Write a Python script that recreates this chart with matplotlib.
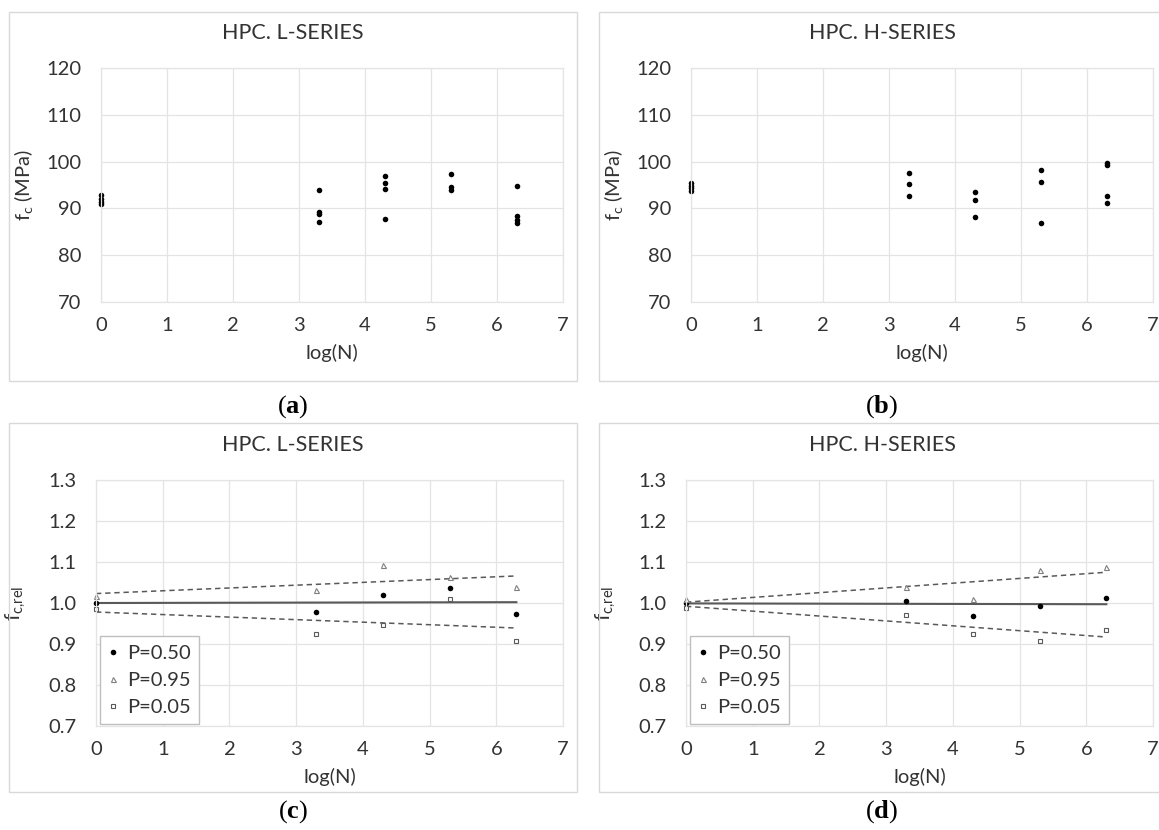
import matplotlib
matplotlib.use("Agg")
import matplotlib.pyplot as plt
from matplotlib.patches import Rectangle

plt.rcParams['font.family'] = ['Lato', 'DejaVu Sans']
plt.rcParams['mathtext.fontset'] = 'custom'
plt.rcParams['mathtext.rm'] = 'Lato'
plt.rcParams['mathtext.it'] = 'Lato'
plt.rcParams['mathtext.bf'] = 'Liberation Serif:bold'
plt.rcParams['mathtext.sf'] = 'Liberation Serif'

# log(N) levels of the fatigue pre-loading
lvl = [0.0, 3.301, 4.301, 5.301, 6.301]

# compressive strength, L-series (MPa)
l_x = [0.0]*4 + [3.301]*4 + [4.301]*4 + [5.301]*3 + [6.301]*4
l_fc = [92.9, 92.0, 91.4, 90.9,
        94.0, 89.3, 88.8, 87.0,
        96.9, 95.4, 94.1, 87.7,
        97.3, 94.5, 93.9,
        94.8, 88.3, 87.5, 86.8]

# compressive strength, H-series (MPa)
h_x = [0.0]*4 + [3.301]*3 + [4.301]*3 + [5.301]*3 + [6.301]*4
h_fc = [95.4, 94.8, 94.3, 93.8,
        97.5, 95.2, 92.6,
        93.4, 91.7, 88.2,
        98.1, 95.7, 86.9,
        99.8, 99.2, 92.7, 91.2]

# relative strength by probability level, L-series
l_p50 = [1.000, 0.978, 1.019, 1.037, 0.973]
l_p95 = [1.017, 1.032, 1.092, 1.064, 1.040]
l_p05 = [0.986, 0.925, 0.947, 1.010, 0.907]
# relative strength by probability level, H-series
h_p50 = [1.000, 1.004, 0.968, 0.993, 1.012]
h_p95 = [1.009, 1.039, 1.009, 1.080, 1.088]
h_p05 = [0.989, 0.970, 0.925, 0.908, 0.935]

# trend lines (values at log(N) = 0 and 6.3)
fit_x = [0.0, 6.301]
l_fit50 = [1.000, 1.002]
l_fit95 = [1.023, 1.066]
l_fit05 = [0.978, 0.939]
h_fit50 = [0.999, 0.997]
h_fit95 = [1.002, 1.075]
h_fit05 = [0.992, 0.917]

W, H = 1159, 830
fig = plt.figure(figsize=(W/100, H/100), dpi=100)

txt = '#333333'
gridc = '#e4e4e4'
fs = 14.5


def box(x0, y0, x1, y1):
    fig.patches.append(Rectangle((x0/W, 1-y1/H), (x1-x0)/W, (y1-y0)/H,
                                 transform=fig.transFigure, fill=False,
                                 edgecolor='#d9d9d9', lw=1.0))


def axes(rect_px, ylim, yticks, yfmt):
    l, t, r, b = rect_px
    ax = fig.add_axes([l/W, 1-b/H, (r-l)/W, (b-t)/H])
    ax.set_xlim(0, 7)
    ax.set_ylim(*ylim)
    ax.set_xticks(range(8))
    ax.set_yticks(yticks)
    ax.set_yticklabels([yfmt.format(v) for v in yticks])
    ax.tick_params(length=0, labelsize=fs, labelcolor=txt)
    ax.tick_params(axis='x', pad=11)
    ax.tick_params(axis='y', pad=14)
    ax.grid(True, color=gridc, lw=0.9)
    ax.set_axisbelow(True)
    for s in ax.spines.values():
        s.set_color(gridc)
        s.set_linewidth(0.9)
    ax.set_xlabel('log(N)', fontsize=fs, color=txt, labelpad=7)
    return ax


def caption(x, y, letter):
    fig.text(x/W, 1-y/H, r'$\mathsf{(}\mathbf{' + letter + r'}\mathsf{)}$',
             ha='center', va='center', fontsize=19, color='black')


# frames of the four chart areas
box(9, 12, 577, 381)
box(599, 12, 1170, 381)
box(9, 423, 577, 792)
box(599, 423, 1170, 792)

fc_ticks = [70, 80, 90, 100, 110, 120]
rel_ticks = [0.7, 0.8, 0.9, 1.0, 1.1, 1.2, 1.3]

# (a) and (b): strength vs log(N)
for rect, xs, ys, title, cx, letter in [
        ((101, 68, 563, 302), l_x, l_fc, 'HPC. L-SERIES', 293, 'a'),
        ((691, 68, 1153, 302), h_x, h_fc, 'HPC. H-SERIES', 882, 'b')]:
    ax = axes(rect, (70, 120), fc_ticks, '{:d}')
    ax.plot(xs, ys, 'o', color='black', ms=4.0, mew=0, clip_on=False)
    ax.set_ylabel(r'$\mathrm{f_c}$ (MPa)', fontsize=fs, color=txt)
    ax.yaxis.set_label_coords(-0.143, 0.5)
    fig.text(cx/W, 1-33/H, title, ha='center', va='center', fontsize=15.5, color=txt)
    caption(cx, 407, letter)

# (c) and (d): relative strength with probability levels
for rect, p50, p95, p05, f50, f95, f05, title, cx, letter in [
        ((96, 480, 563, 726), l_p50, l_p95, l_p05, l_fit50, l_fit95, l_fit05,
         'HPC. L-SERIES', 293, 'c'),
        ((686, 480, 1153, 726), h_p50, h_p95, h_p05, h_fit50, h_fit95, h_fit05,
         'HPC. H-SERIES', 882, 'd')]:
    ax = axes(rect, (0.7, 1.3), rel_ticks, '{:.1f}')
    ax.plot(fit_x, f50, '-', color='#595959', lw=1.5)
    ax.plot(fit_x, f95, '--', color='#595959', lw=1.1, dashes=(3.5, 2.5))
    ax.plot(fit_x, f05, '--', color='#595959', lw=1.1, dashes=(3.5, 2.5))
    ax.plot(lvl, p50, 'o', color='black', ms=4.0, mew=0, label='P=0.50', clip_on=False)
    ax.plot(lvl, p95, '^', mfc='white', mec='#7f7f7f', ms=3.6, mew=0.8,
            label='P=0.95', clip_on=False)
    ax.plot(lvl, p05, 's', mfc='white', mec='#595959', ms=3.4, mew=0.8,
            label='P=0.05', clip_on=False)
    ax.set_ylabel(r'$\mathrm{f_{c{,}rel}}$', fontsize=15, color=txt)
    ax.yaxis.set_label_coords(-0.146, 0.5)
    leg = ax.legend(loc='lower left', bbox_to_anchor=(0.009, 0.008),
                    borderaxespad=0, fontsize=fs, handlelength=0.5,
                    handletextpad=0.45, labelspacing=0.5, borderpad=0.4,
                    fancybox=False, framealpha=1, edgecolor='#bfbfbf')
    leg.get_frame().set_linewidth(1.0)
    for t in leg.get_texts():
        t.set_color(txt)
    fig.text(cx/W, 1-445/H, title, ha='center', va='center', fontsize=15.5, color=txt)
    caption(cx, 812, letter)

fig.savefig('out.png', dpi=100)
